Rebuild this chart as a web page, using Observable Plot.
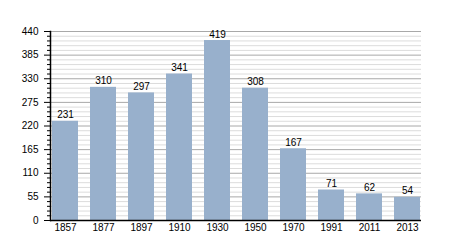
<!DOCTYPE html>
<html>
<head>
<meta charset="utf-8">
<script src="https://cdn.jsdelivr.net/npm/d3@7"></script>
<script src="https://cdn.jsdelivr.net/npm/@observablehq/plot@0.6"></script>
<style>
body { margin: 0; background: #fff; }
</style>
</head>
<body>
<div id="chart"></div>
<script>
const years = ["1857", "1877", "1897", "1910", "1930", "1950", "1970", "1991", "2011", "2013"];
const population = [231, 310, 297, 341, 419, 308, 167, 71, 62, 54];
const majorTicks = [0, 55, 110, 165, 220, 275, 330, 385, 440];
const minorTicks = d3.range(0, 441, 11).filter(v => v % 55 !== 0);

const data = years.map((y, i) => ({year: y, value: population[i]}));

const chart = Plot.plot({
  width: 450,
  height: 250,
  marginLeft: 50,
  marginRight: 29,
  marginTop: 31,
  marginBottom: 30,
  style: {fontFamily: "'Liberation Sans', Arial, sans-serif", fontSize: "10px", color: "#000", background: "#fff"},
  x: {domain: years, paddingInner: 0.32, paddingOuter: 0, label: null},
  y: {domain: [0, 440], label: null},
  marks: [
    Plot.ruleY(minorTicks, {stroke: "#dcdcdc", strokeWidth: 1}),
    Plot.ruleY(majorTicks, {stroke: "#a8a8a8", strokeWidth: 1}),
    Plot.barY(data, {x: "year", y: "value", fill: "#98b0cc"}),
    Plot.text(data, {x: "year", y: "value", text: d => String(d.value), lineAnchor: "bottom", dy: -3, fill: "#000", fontSize: 10}),
    Plot.axisY({ticks: minorTicks, tickSize: 3, tickFormat: () => "", label: null}),
    Plot.axisY({ticks: majorTicks, tickSize: 6, tickPadding: 6, label: null}),
    Plot.axisX({tickSize: 0, tickPadding: 3, label: null}),
    Plot.ruleY([0], {stroke: "#000", strokeWidth: 1.5}),
    Plot.frame({anchor: "left", stroke: "#000", strokeWidth: 1.5})
  ]
});
document.getElementById("chart").appendChild(chart);
</script>
</body>
</html>
